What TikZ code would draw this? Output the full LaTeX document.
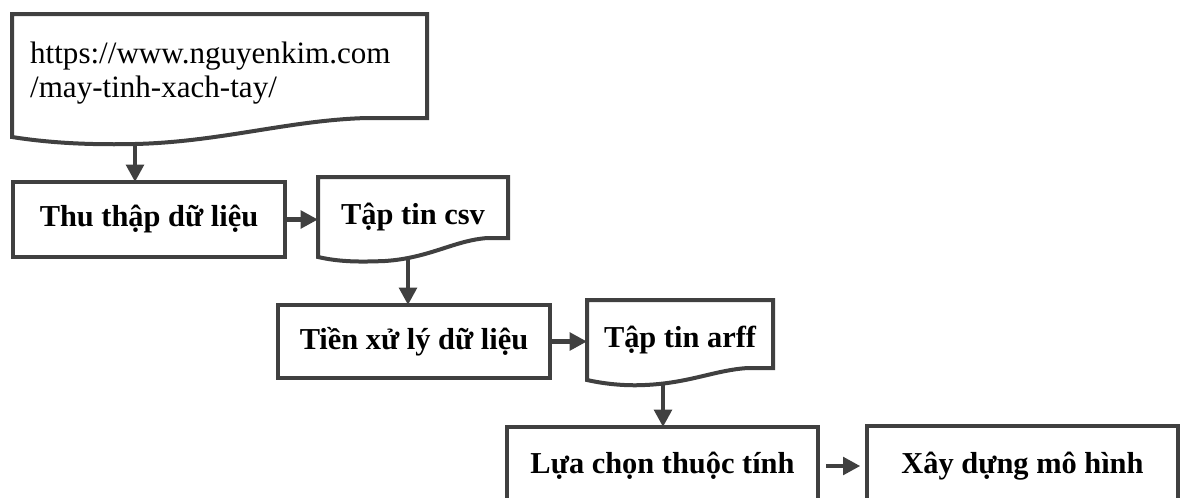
\documentclass[tikz,border=0pt]{standalone}
\usepackage{fontspec}
\setmainfont{Liberation Serif}
\usetikzlibrary{arrows.meta}
\definecolor{edgecol}{HTML}{404040}
\tikzset{
  stepbox/.style={draw=edgecol, line width=3pt, fill=white, inner sep=0pt, outer sep=0pt, font=\fontsize{22.8}{26}\selectfont\bfseries},
  docbox/.style={inner sep=0pt, outer sep=0pt, font=\fontsize{22.8}{26}\selectfont\bfseries},
  docline/.style={draw=edgecol, line width=3pt, fill=white},
  flow/.style={draw=edgecol, line width=3.5pt, -{Triangle[length=13pt,width=13pt]}}
}
\begin{document}
\begin{tikzpicture}[x=0.75pt, y=-0.75pt]
\useasboundingbox (0,0) rectangle (1181,497);
\clip (0,0) rectangle (1181,497);
\draw[docline] (12,137) -- (12,14) -- (427,14) -- (427,118) -- (367,118) .. controls (290,120) and (220,142) .. (135,144) .. controls (90,145) and (50,143) .. (12,137) -- cycle;
\draw[docline] (318,257) -- (318,177) -- (508,177) -- (508,238) -- (488,238) .. controls (455,240) and (430,258) .. (385,261) .. controls (360,262) and (340,262) .. (318,257) -- cycle;
\draw[docline] (587,380) -- (587,300) -- (773,300) -- (773,368) -- (748,368) .. controls (715,370) and (690,383) .. (645,385) .. controls (625,386) and (605,384) .. (587,380) -- cycle;
\node[docbox, font=\fontsize{23.3}{25.5}\selectfont, align=left, text width=284pt, inner xsep=13.5pt, minimum height=92.25pt] (url) at (219.5,73) {https://www.nguyenkim.com\\/may-tinh-xach-tay/};
\node[docbox, minimum width=142.5pt, minimum height=60pt] (csv) at (413,217) {Tập tin csv};
\node[docbox, minimum width=139.5pt, minimum height=60pt] (arff) at (680,340) {Tập tin arff};
\node[stepbox, minimum width=204pt, minimum height=56.25pt] (thu) at (149,219.5) {Thu thập dữ liệu};
\node[stepbox, minimum width=204pt, minimum height=54.75pt] (tien) at (414,341.5) {Tiền xử lý dữ liệu};
\node[stepbox, minimum width=233.25pt, minimum height=58.5pt] (lua) at (662.5,466) {Lựa chọn thuộc tính};
\node[stepbox, minimum width=233.25pt, minimum height=60pt] (xay) at (1022.5,466) {Xây dựng mô hình};
\coordinate (urldip) at (135,143);
\coordinate (csvdip) at (408,259);
\coordinate (arffdip) at (663,384);
\draw[flow] (urldip) -- (urldip |- thu.north);
\draw[flow] (thu.east) -- (csv.west |- thu.east);
\draw[flow] (csvdip) -- (csvdip |- tien.north);
\draw[flow] (tien.east) -- (arff.west |- tien.east);
\draw[flow] (arffdip) -- (arffdip |- lua.north);
\draw[flow, shorten <=6pt, shorten >=5pt] (lua.east) -- (xay.west);
\end{tikzpicture}
\end{document}
